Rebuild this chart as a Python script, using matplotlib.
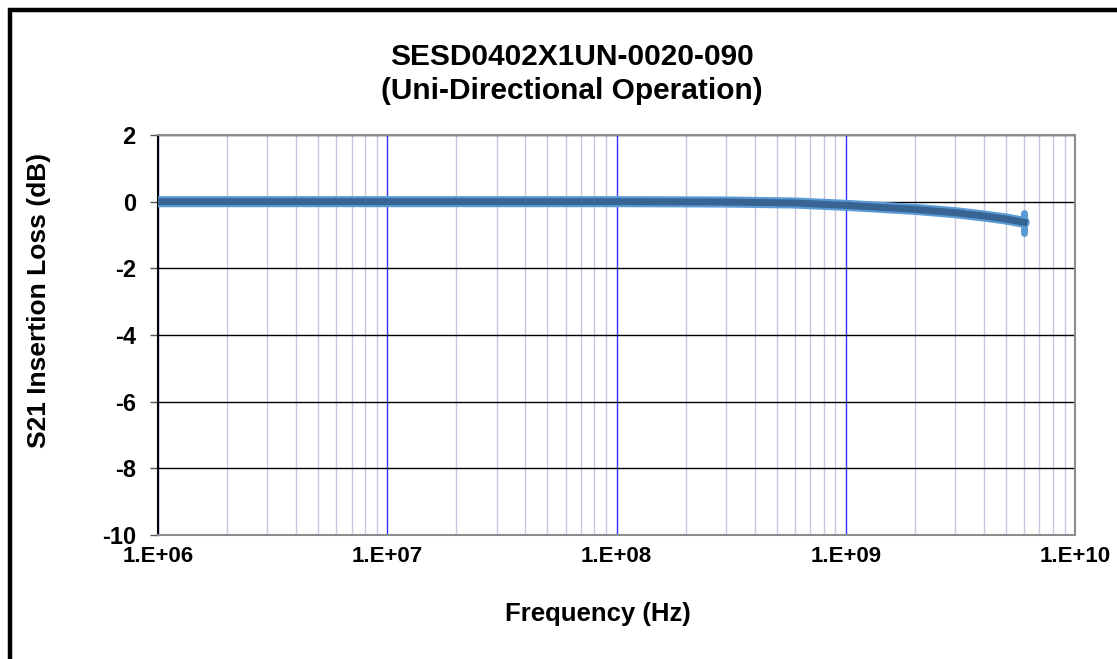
import numpy as np
import matplotlib.pyplot as plt
from matplotlib.patches import Rectangle
from matplotlib.ticker import FixedLocator, LogLocator, NullFormatter

plt.rcParams['font.family'] = ['Liberation Sans', 'DejaVu Sans']

# S21 trace
freq = [1e6, 1e7, 1e8, 3e8, 6e8, 1e9, 2e9, 3e9, 4e9, 5e9, 6e9]
s21 = [0.0, 0.0, 0.0, -0.01, -0.04, -0.11, -0.23, -0.33, -0.43, -0.52, -0.62]
# noisy spread at the last sweep point
end_freq = [6e9, 6e9]
end_spread = [-0.35, -0.95]

x_ticks = [1e6, 1e7, 1e8, 1e9, 1e10]
x_labels = ['1.E+06', '1.E+07', '1.E+08', '1.E+09', '1.E+10']
y_ticks = [2, 0, -2, -4, -6, -8, -10]

fig = plt.figure(figsize=(11.17, 6.59), dpi=100)
ax = fig.add_axes([158/1117, 1 - 535/659, (1075 - 158)/1117, 400/659])

ax.set_xscale('log')
ax.set_xlim(1e6, 1e10)
ax.set_ylim(-10, 2)

ax.xaxis.set_major_locator(FixedLocator(x_ticks))
ax.xaxis.set_minor_locator(LogLocator(base=10, subs=np.arange(2, 10)))
ax.xaxis.set_minor_formatter(NullFormatter())
ax.set_xticks(x_ticks)
ax.set_xticklabels(x_labels, fontsize=16, fontweight='bold')
ax.set_yticks(y_ticks)
ax.set_yticklabels([str(v) for v in y_ticks], fontsize=17, fontweight='bold')

ax.grid(which='minor', axis='x', color='#c6c6dc', lw=1)
ax.grid(which='major', axis='x', color='#3030ff', lw=1)
ax.grid(which='major', axis='y', color='black', lw=1)
ax.set_axisbelow(True)

ax.tick_params(axis='x', which='both', length=0, pad=8)
ax.tick_params(axis='y', length=6, width=1, pad=10, color='#555555')

for side in ['top', 'right', 'bottom']:
    ax.spines[side].set_color('#8c8c8c')
    ax.spines[side].set_linewidth(1.5)
ax.spines['left'].set_color('black')
ax.spines['left'].set_linewidth(1.5)

ax.plot(freq, s21, color='#5b9bd5', lw=8, solid_capstyle='round', zorder=3)
ax.plot(end_freq, end_spread, color='#5b9bd5', lw=5, solid_capstyle='round', zorder=3)
ax.plot(freq, s21, color='#386494', lw=5, zorder=4)

fig.text(572/1117, 1 - 57/659, 'SESD0402X1UN-0020-090', ha='center', va='center',
         fontsize=21.5, fontweight='bold')
fig.text(572/1117, 1 - 91/659, '(Uni-Directional Operation)', ha='center', va='center',
         fontsize=21.5, fontweight='bold')
fig.text(598/1117, 1 - 614/659, 'Frequency (Hz)', ha='center', va='center',
         fontsize=18.5, fontweight='bold')
fig.text(39/1117, 1 - 300/659, 'S21 Insertion Loss (dB)', ha='center', va='center',
         rotation=90, fontsize=19, fontweight='bold')

fig.patches.append(Rectangle((10/1117, -0.2), 1.2, 1.2 - 10/659, transform=fig.transFigure,
                             fill=False, edgecolor='black', lw=3.2, clip_on=False))

fig.savefig('out.png', dpi=100)
